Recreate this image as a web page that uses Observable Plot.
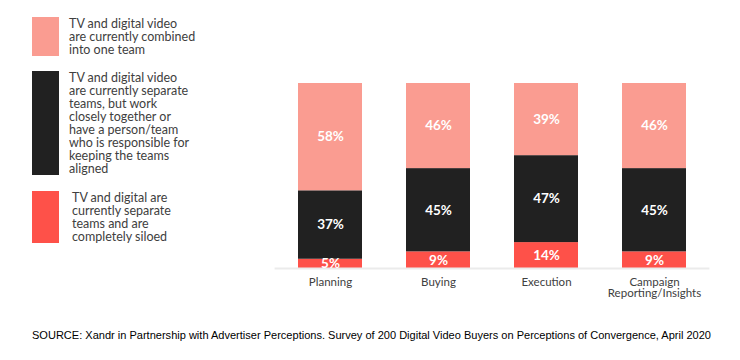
<!DOCTYPE html>
<html>
<head>
<meta charset="utf-8">
<script src="https://cdn.jsdelivr.net/npm/d3@7"></script>
<script src="https://cdn.jsdelivr.net/npm/@observablehq/plot@0.6"></script>
<style>
  html, body { margin: 0; padding: 0; background: #fff; }
  #wrap { position: relative; width: 740px; height: 360px; overflow: hidden; font-family: Lato, "Liberation Sans", sans-serif; }
  #chart { position: absolute; left: 0; top: 0; }
  .lg { position: absolute; display: flex; align-items: flex-start; }
  .sw { width: 27px; flex: none; }
  .lt { white-space: pre-line; font-size: 12.5px; line-height: 13px; color: #404040; margin-top: 0px; }
  #source { position: absolute; left: 32px; top: 327px; }
</style>
</head>
<body>
<div id="wrap">
  <div id="chart"></div>
  <div id="legend"></div>
  <svg id="source" width="700" height="18"></svg>
</div>
<script>
const categories = ["Planning", "Buying", "Execution", "Campaign Reporting/Insights"];
const tickLabels = ["Planning", "Buying", "Execution", "Campaign\nReporting/Insights"];
const seriesNames = ["Siloed", "Separate but aligned", "Combined"];
const legendTexts = [
  "TV and digital video\nare currently combined\ninto one team",
  "TV and digital video\nare currently separate\nteams, but work\nclosely together or\nhave a person/team\nwho is responsible for\nkeeping the teams\naligned",
  "TV and digital are\ncurrently separate\nteams and are\ncompletely siloed"
];
const legendSeries = ["Combined", "Separate but aligned", "Siloed"];
const siloed = [5, 9, 14, 9];
const separateAligned = [37, 45, 47, 45];
const combined = [58, 46, 39, 46];
const colors = ["#FE5149", "#212121", "#FA9C91"];
const sourceText = "SOURCE: Xandr in Partnership with Advertiser Perceptions. Survey of 200 Digital Video Buyers on Perceptions of Convergence, April 2020";

const valuesBySeries = [siloed, separateAligned, combined];
const data = [];
categories.forEach((c, i) => {
  seriesNames.forEach((s, j) => {
    data.push({ category: c, series: s, value: valuesBySeries[j][i], rank: j });
  });
});

const chart = Plot.plot({
  width: 740,
  height: 310,
  marginLeft: 274.6,
  marginRight: 30.6,
  marginTop: 83,
  marginBottom: 42,
  style: { fontFamily: "Lato, 'Liberation Sans', sans-serif", background: "transparent" },
  x: { domain: categories, paddingInner: 0.41, paddingOuter: 0.205, axis: null },
  y: { domain: [0, 100], axis: null },
  color: { domain: seriesNames, range: colors },
  marks: [
    Plot.barY(data, { x: "category", y: "value", fill: "series", order: "rank" }),
    Plot.ruleY([0], { stroke: "#ebebeb", strokeWidth: 2 }),
    Plot.text(data, Plot.stackY({
      x: "category", y: "value", z: "series", order: "rank",
      text: d => d.value + "%", fill: "white", fontWeight: "bold", fontSize: 13.5
    })),
    Plot.axisX({
      tickSize: 0, tickPadding: 9, fontSize: 11.5, color: "#404040", label: null,
      tickFormat: d => tickLabels[categories.indexOf(d)]
    })
  ]
});
document.getElementById("chart").appendChild(chart);

// Legend
const legendPos = [
  { top: 17, left: 32, textLeft: 69 },
  { top: 71, left: 32, textLeft: 69 },
  { top: 191, left: 32, textLeft: 72 }
];
const legend = document.getElementById("legend");
legendSeries.forEach((s, i) => {
  const lines = legendTexts[i].split("\n").length;
  const item = document.createElement("div");
  item.className = "lg";
  item.style.left = legendPos[i].left + "px";
  item.style.top = legendPos[i].top + "px";
  const sw = document.createElement("div");
  sw.className = "sw";
  sw.style.height = (lines * 13) + "px";
  sw.style.background = colors[seriesNames.indexOf(s)];
  const t = document.createElement("div");
  t.className = "lt";
  t.style.marginLeft = (legendPos[i].textLeft - legendPos[i].left - 27) + "px";
  t.textContent = legendTexts[i];
  item.appendChild(sw);
  item.appendChild(t);
  legend.appendChild(item);
});

// Source
const src = d3.select("#source");
src.append("text")
  .attr("x", 0).attr("y", 12)
  .attr("font-family", "'Liberation Sans', sans-serif")
  .attr("font-size", 11)
  .attr("fill", "#000")
  .attr("textLength", 679)
  .attr("lengthAdjust", "spacingAndGlyphs")
  .text(sourceText);
</script>
</body>
</html>
